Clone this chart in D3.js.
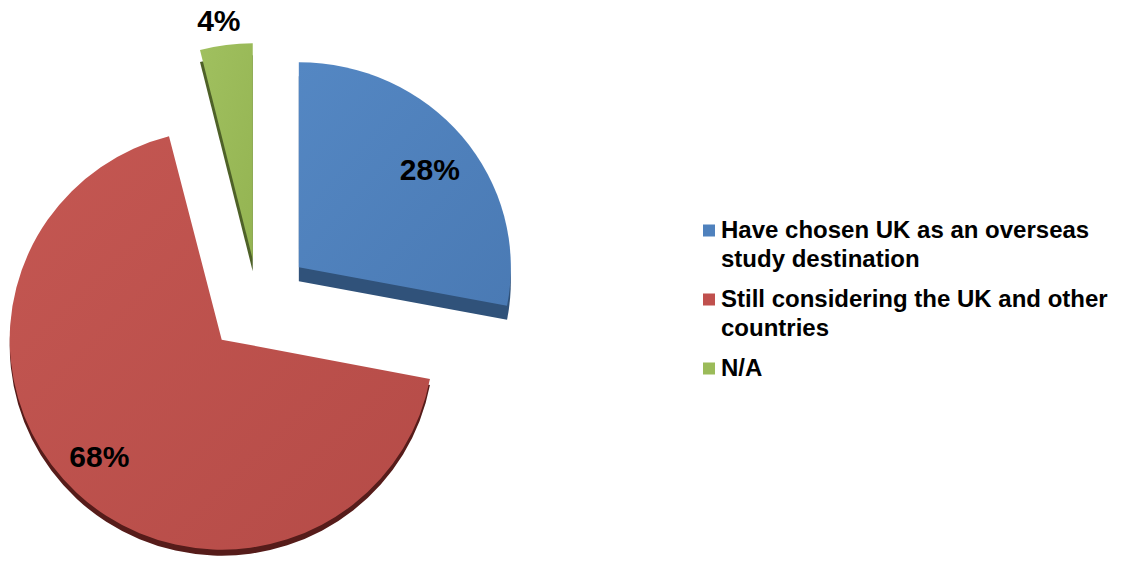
<!DOCTYPE html>
<html>
<head>
<meta charset="utf-8">
<script src="https://cdn.jsdelivr.net/npm/d3@7"></script>
<style>
  html, body { margin: 0; padding: 0; background: #ffffff; }
  svg { display: block; }
</style>
</head>
<body>
<svg id="chart" width="1126" height="568"></svg>
<script>
// ---- data ----
const categories = [
  "Have chosen UK as an overseas study destination",
  "Still considering the UK and other countries",
  "N/A"
];
const legendLines = [
  ["Have chosen UK as an overseas", "study destination"],
  ["Still considering the UK and other", "countries"],
  ["N/A"]
];
const values = [28, 68, 4];

// ---- styles ----
const topColors   = ["#4F81BD", "#C0504D", "#9BBB59"];
const lightColors = ["#5487C3", "#C45752", "#A0C05F"];
const darkColors  = ["#4A7AB4", "#B54B47", "#94B452"];
const sideColors  = ["#30527A", "#561C1A", "#4E6128"];

// ---- layout ----
const cx = 258, cy = 301;          // pie centre before explosion
const rx = 212;                    // horizontal radius
const ry = [205, 210, 216];        // vertical radius per slice (tilted view)
const explode = [53, 53, 42];      // explosion distance per slice
const depth = [14, 6, 12];         // visible thickness of each slice
const labelFrac = [0.78, 0.80, 1.12];
const labelNudge = [2, 3, -1];     // degrees

const svg = d3.select("#chart");
const defs = svg.append("defs");

const pie = d3.pie().sort(null).value(d => d).startAngle(0).endAngle(2 * Math.PI);
const arcs = pie(values);
const arc = d3.arc().innerRadius(0).outerRadius(rx);

const total = d3.sum(values);
const pct = d3.format(".0%");

// gradients for the top faces
arcs.forEach((a, i) => {
  const g = defs.append("linearGradient")
    .attr("id", "top" + i)
    .attr("x1", 0).attr("y1", 0).attr("x2", 1).attr("y2", 1);
  g.append("stop").attr("offset", "0%").attr("stop-color", lightColors[i]);
  g.append("stop").attr("offset", "100%").attr("stop-color", darkColors[i]);
});

const pieG = svg.append("g");

const slices = arcs.map((a, i) => {
  const mid = (a.startAngle + a.endAngle) / 2;
  const ox = cx + explode[i] * Math.sin(mid);
  const oy = cy - explode[i] * Math.cos(mid);
  return { a, i, mid, ox, oy };
});

// side (thickness) of each slice
slices.forEach(s => {
  pieG.append("path")
    .attr("d", arc(s.a))
    .attr("fill", sideColors[s.i])
    .attr("transform", `translate(${s.ox},${s.oy + depth[s.i]}) scale(1,${ry[s.i] / rx})`);
});

// top faces
slices.forEach(s => {
  pieG.append("path")
    .attr("d", arc(s.a))
    .attr("fill", `url(#top${s.i})`)
    .attr("transform", `translate(${s.ox},${s.oy}) scale(1,${ry[s.i] / rx})`);
});

// value labels
slices.forEach(s => {
  const ang = s.mid + labelNudge[s.i] * Math.PI / 180;
  const lx = s.ox + labelFrac[s.i] * rx * Math.sin(ang);
  const ly = s.oy - labelFrac[s.i] * ry[s.i] * Math.cos(ang);
  svg.append("text")
    .attr("x", lx).attr("y", ly)
    .attr("dy", "0.36em")
    .attr("text-anchor", "middle")
    .attr("font-family", "'Liberation Sans', Arial, sans-serif")
    .attr("font-weight", "bold")
    .attr("font-size", 30)
    .attr("fill", "#000")
    .text(pct(values[s.i] / total));
});

// legend
const legendX = 703, textX = 721;
const firstBaseline = 238, lineH = 29, itemGap = 40;
const legend = svg.append("g");
let base = firstBaseline;
categories.forEach((c, i) => {
  legend.append("rect")
    .attr("x", legendX).attr("y", base - 13.5)
    .attr("width", 12).attr("height", 12)
    .attr("fill", topColors[i]);
  const t = legend.append("text")
    .attr("font-family", "'Liberation Sans', Arial, sans-serif")
    .attr("font-weight", "bold")
    .attr("font-size", 24)
    .attr("fill", "#000");
  legendLines[i].forEach((ln, j) => {
    t.append("tspan").attr("x", textX).attr("y", base + j * lineH).text(ln);
  });
  base += (legendLines[i].length - 1) * lineH + itemGap;
});
</script>
</body>
</html>
